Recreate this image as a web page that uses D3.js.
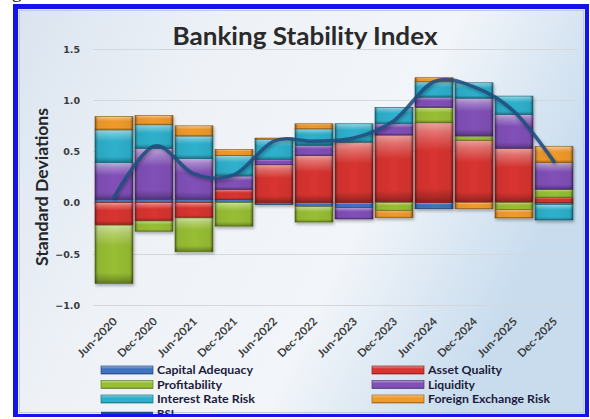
<!DOCTYPE html>
<html>
<head>
<meta charset="utf-8">
<script src="https://cdn.jsdelivr.net/npm/d3@7/dist/d3.min.js"></script>
<style>
  body { margin: 0; background: #fff; }
  svg { display: block; }
</style>
</head>
<body>
<svg id="chart" width="590" height="419"></svg>
<script>
// Half-year periods on the category axis
const periods = ["Jun-2020", "Dec-2020", "Jun-2021", "Dec-2021", "Jun-2022", "Dec-2022",
                 "Jun-2023", "Dec-2023", "Jun-2024", "Dec-2024", "Jun-2025", "Dec-2025"];

// Component contributions (standard deviations)
const capitalAdequacy     = [0.03, 0.03, 0.03, 0.03, -0.02, -0.04, -0.05, 0.00, -0.06, 0.00, 0.00, -0.02];
const assetQuality        = [-0.22, -0.18, -0.15, 0.10, 0.37, 0.46, 0.59, 0.66, 0.78, 0.61, 0.53, 0.05];
const profitability       = [-0.57, -0.10, -0.33, -0.23, 0.00, -0.15, 0.00, -0.08, 0.15, 0.04, -0.07, 0.08];
const liquidity           = [0.36, 0.50, 0.40, 0.13, 0.05, 0.10, -0.11, 0.11, 0.10, 0.37, 0.33, 0.26];
const interestRateRisk    = [0.32, 0.23, 0.22, 0.20, 0.20, 0.16, 0.18, 0.16, 0.15, 0.15, 0.18, -0.15];
const foreignExchangeRisk = [0.13, 0.09, 0.10, 0.06, 0.01, 0.05, 0.00, -0.065, 0.04, -0.06, -0.08, 0.16];

// Composite index
const bsi = [0.05, 0.55, 0.28, 0.27, 0.60, 0.60, 0.63, 0.80, 1.18, 1.13, 0.89, 0.40];

const seriesNames = ["Capital Adequacy", "Asset Quality", "Profitability",
                     "Liquidity", "Interest Rate Risk", "Foreign Exchange Risk"];
const seriesValues = [capitalAdequacy, assetQuality, profitability,
                      liquidity, interestRateRisk, foreignExchangeRisk];
const seriesColors = ["#3f73c0", "#d83430", "#98be34", "#8150b8", "#2eb0cc", "#f09a2c"];
const lineName = "BSI";
const lineColor = "#1f4e80";

const yTicks = [-1.0, -0.5, 0.0, 0.5, 1.0, 1.5];

const svg = d3.select("#chart");
const defs = svg.append("defs");

// ---- background and frame ----
const bg = defs.append("linearGradient").attr("id", "bg")
  .attr("x1", 0).attr("y1", 0).attr("x2", 1).attr("y2", 0.35);
[[0, "#dae4ef"], [0.35, "#eef2f7"], [0.7, "#f2f5f9"], [1, "#c8dcee"]]
  .forEach(([o, c]) => bg.append("stop").attr("offset", o).attr("stop-color", c));

defs.append("clipPath").attr("id", "frameClip")
  .append("rect").attr("x", 18).attr("y", 9).attr("width", 567).attr("height", 405);

// fragment of the text line above the frame
svg.append("text").attr("x", 12).attr("y", -2)
  .attr("font-family", "Liberation Serif, serif").attr("font-size", 19)
  .attr("fill", "#111").text("g");

svg.append("rect").attr("x", 13).attr("y", 4).attr("width", 576).attr("height", 413)
  .attr("fill", "#1414e8");
svg.append("rect").attr("x", 18).attr("y", 9).attr("width", 567).attr("height", 405)
  .attr("fill", "url(#bg)");
svg.append("rect").attr("x", 19.5).attr("y", 10.5).attr("width", 564).attr("height", 402)
  .attr("fill", "none").attr("stroke", "#b9cde6").attr("stroke-width", 1);

const g = svg.append("g").attr("clip-path", "url(#frameClip)");

// ---- bevel gradients for each component ----
seriesColors.forEach((c, i) => {
  const base = d3.color(c);
  const grad = defs.append("linearGradient").attr("id", "fill" + i)
    .attr("x1", 0).attr("y1", 0).attr("x2", 0).attr("y2", 1);
  const light = d3.interpolateRgb(c, "#ffffff");
  [[0, light(0.55)], [0.12, light(0.3)], [0.35, c], [0.82, c],
   [0.93, base.darker(0.6).formatHex()], [1, base.darker(1.3).formatHex()]]
    .forEach(([o, col]) => grad.append("stop").attr("offset", o).attr("stop-color", col));
});
const side = defs.append("linearGradient").attr("id", "side")
  .attr("x1", 0).attr("y1", 0).attr("x2", 1).attr("y2", 0);
[[0, 0.4], [0.08, 0.05], [0.5, 0], [0.92, 0.05], [1, 0.45]]
  .forEach(([o, a]) => side.append("stop").attr("offset", o)
    .attr("stop-color", "#000").attr("stop-opacity", a));

const shadow = defs.append("filter").attr("id", "shadow")
  .attr("x", "-10%").attr("y", "-10%").attr("width", "130%").attr("height", "130%");
shadow.append("feDropShadow").attr("dx", 1).attr("dy", 2).attr("stdDeviation", 1.4)
  .attr("flood-color", "#000").attr("flood-opacity", 0.3);

// ---- scales ----
const x = d3.scaleBand().domain(periods).range([94, 574])
  .paddingInner(0.05).paddingOuter(0.025);
const y = d3.scaleLinear().domain([-1, 1.5]).range([305, 49]);

// gridlines
g.append("g").selectAll("line").data(yTicks).join("line")
  .attr("x1", 93).attr("x2", 577)
  .attr("y1", d => Math.round(y(d)) + 0.5).attr("y2", d => Math.round(y(d)) + 0.5)
  .attr("stroke", "#d3d8df").attr("stroke-width", 1);

// y tick labels
const yAxis = d3.axisLeft(y).tickValues(yTicks).tickFormat(d3.format(".1f")).tickSize(0).tickPadding(0);
const yAxisG = g.append("g").attr("transform", "translate(80,0)").call(yAxis);
yAxisG.select(".domain").remove();
yAxisG.selectAll("text")
  .attr("font-family", "DejaVu Sans, sans-serif").attr("font-size", 9.5)
  .attr("font-weight", "bold").attr("fill", "#3a3a3a").attr("dy", "0.35em");

// x tick labels, rotated
const xAxis = d3.axisBottom(x).tickSize(0).tickPadding(0);
const xAxisG = g.append("g").attr("transform", "translate(0,0)").call(xAxis);
xAxisG.select(".domain").remove();
xAxisG.selectAll(".tick").attr("transform", d => `translate(${x(d) + x.bandwidth() / 2 + 4},322)`);
xAxisG.selectAll("text")
  .attr("y", 0).attr("dy", 0)
  .attr("text-anchor", "end").attr("transform", "rotate(-45)")
  .attr("font-family", "Lato, sans-serif").attr("font-size", 11).attr("font-weight", "bold")
  .attr("fill", "#3c3c3c").attr("textLength", 51).attr("lengthAdjust", "spacingAndGlyphs");

// ---- stacked bars ----
const rows = periods.map((p, i) => {
  const r = { period: p };
  seriesNames.forEach((n, k) => r[n] = seriesValues[k][i]);
  return r;
});
const stack = d3.stack().keys(seriesNames).offset(d3.stackOffsetDiverging)(rows);

const barsG = g.append("g").attr("filter", "url(#shadow)");
stack.forEach((layer, k) => {
  const seg = barsG.append("g").selectAll("g")
    .data(layer.filter(d => Math.abs(d[1] - d[0]) > 1e-6)).join("g");
  seg.append("rect")
    .attr("x", d => x(d.data.period))
    .attr("y", d => y(Math.max(d[0], d[1])))
    .attr("width", x.bandwidth())
    .attr("height", d => Math.abs(y(d[0]) - y(d[1])))
    .attr("fill", `url(#fill${k})`)
    .attr("stroke", d3.color(seriesColors[k]).darker(1.2))
    .attr("stroke-width", 0.7);
  seg.append("rect")
    .attr("x", d => x(d.data.period))
    .attr("y", d => y(Math.max(d[0], d[1])))
    .attr("width", x.bandwidth())
    .attr("height", d => Math.abs(y(d[0]) - y(d[1])))
    .attr("fill", "url(#side)");
});

// ---- BSI line ----
const line = d3.line()
  .x((d, i) => x(periods[i]) + x.bandwidth() / 2)
  .y(d => y(d))
  .curve(d3.curveCardinal.tension(0));
g.append("path").datum(bsi)
  .attr("d", line)
  .attr("fill", "none").attr("stroke", lineColor).attr("stroke-width", 3.6)
  .attr("stroke-opacity", 0.88).attr("stroke-linecap", "round")
  .attr("filter", "url(#shadow)");

// ---- titles ----
g.append("text").attr("x", 305).attr("y", 45).attr("text-anchor", "middle")
  .attr("font-family", "Lato, sans-serif").attr("font-size", 24).attr("font-weight", "bold")
  .attr("fill", "#2a2a2a").attr("textLength", 265).attr("lengthAdjust", "spacingAndGlyphs")
  .text("Banking Stability Index");

g.append("text").attr("transform", "translate(48,187) rotate(-90)")
  .attr("text-anchor", "middle")
  .attr("font-family", "Lato, sans-serif").attr("font-size", 17).attr("font-weight", "bold")
  .attr("fill", "#262626").attr("textLength", 158).attr("lengthAdjust", "spacingAndGlyphs")
  .text("Standard Deviations");

// ---- legend ----
const legendItems = [
  { name: seriesNames[0], k: 0, col: 0, row: 0, w: 96 },
  { name: seriesNames[1], k: 1, col: 1, row: 0, w: 74 },
  { name: seriesNames[2], k: 2, col: 0, row: 1, w: 65 },
  { name: seriesNames[3], k: 3, col: 1, row: 1, w: 47 },
  { name: seriesNames[4], k: 4, col: 0, row: 2, w: 98 },
  { name: seriesNames[5], k: 5, col: 1, row: 2, w: 122 },
  { name: lineName, k: -1, col: 0, row: 3, w: 17 }
];
const colX = [101, 372];
const rowY = [370, 384.5, 399, 413.5];
const legend = g.append("g").selectAll("g").data(legendItems).join("g")
  .attr("transform", d => `translate(${colX[d.col]},${rowY[d.row]})`);
legend.filter(d => d.k >= 0).append("rect")
  .attr("x", 0).attr("y", -4).attr("width", 52).attr("height", 8)
  .attr("fill", d => `url(#fill${d.k})`)
  .attr("stroke", d => d3.color(seriesColors[d.k]).darker(1.2)).attr("stroke-width", 0.7);
legend.filter(d => d.k < 0).append("line")
  .attr("x1", 0).attr("x2", 52).attr("y1", 0).attr("y2", 0)
  .attr("stroke", lineColor).attr("stroke-width", 3.6);
legend.append("text").attr("x", 56).attr("y", 4)
  .attr("font-family", "Lato, sans-serif").attr("font-size", 11.5).attr("font-weight", "bold")
  .attr("fill", "#1c1c3a").attr("textLength", d => d.w).attr("lengthAdjust", "spacingAndGlyphs")
  .text(d => d.name);
</script>
</body>
</html>
